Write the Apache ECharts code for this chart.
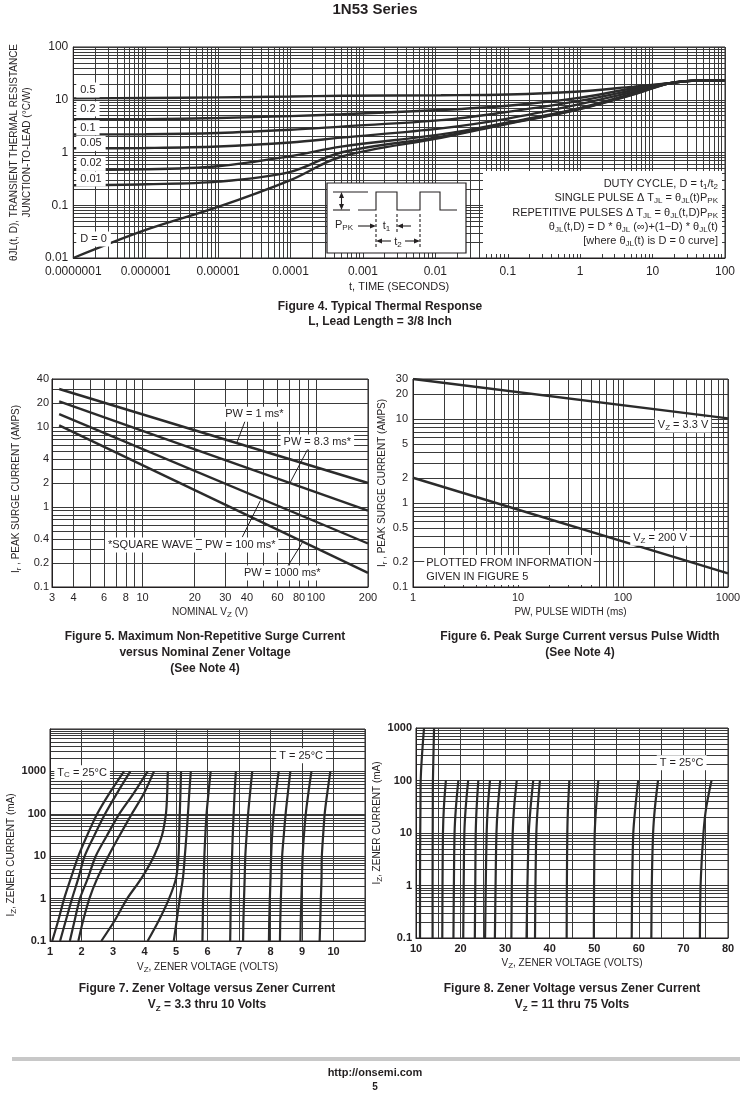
<!DOCTYPE html>
<html><head><meta charset="utf-8">
<script src="https://cdn.jsdelivr.net/npm/echarts@6/dist/echarts.min.js"></script>
<style>html,body{margin:0;padding:0;background:#fff}#c{width:750px;height:1098px}</style>
</head><body><div id="c"></div>
<script>
// ---------------- Figure 4 : thermal response ----------------
const T4 = [1e-7, 1e-6, 1e-5, 1e-4, 5e-4, 0.012, 0.1, 0.85, 5.5, 17, 40, 100];
const D4_00  = [0.01, 0.034, 0.093, 0.30, 0.83, 1.9, 3.5, 6.3, 12.6, 20.5, 23, 23];
const D4_001 = [0.24, 0.25, 0.28, 0.43, 1.0, 2.0, 3.6, 6.4, 12.8, 20.5, 23, 23];
const D4_002 = [0.47, 0.48, 0.55, 0.85, 1.29, 2.2, 3.7, 6.6, 13.2, 20.5, 23, 23];
const D4_005 = [1.2, 1.22, 1.3, 1.55, 1.91, 2.87, 4.4, 7.9, 14.2, 20.5, 23, 23];
const D4_01  = [2.2, 2.22, 2.35, 2.7, 3.1, 4.1, 5.9, 9.2, 15.3, 20.5, 23, 23];
const D4_02  = [4.26, 4.3, 4.5, 4.9, 5.3, 6.4, 7.7, 10.6, 16.5, 20.5, 23, 23];
const D4_05  = [10.6, 10.8, 11.1, 11.5, 11.9, 12.2, 12.6, 14.2, 17.7, 20.5, 23, 23];
const X4_TICKS = [1e-7, 1e-6, 1e-5, 1e-4, 1e-3, 1e-2, 0.1, 1, 10, 100];
const X4_LABELS = ['0.0000001','0.000001','0.00001','0.0001','0.001','0.01','0.1','1','10','100'];
const Y4_TICKS = [0.01, 0.1, 1, 10, 100];

// ---------------- Figure 5 : surge current vs nominal Vz ----------------
const VZ5 = [3.3, 200];
const PW1MS = [30, 2];
const PW83MS = [21, 0.9];
const PW100MS = [14.5, 0.35];
const PW1000MS = [10.5, 0.15];
const X5_TICKS = [3, 4, 6, 8, 10, 20, 30, 40, 60, 80, 100, 200];
const Y5_TICKS = [0.1, 0.2, 0.4, 1, 2, 4, 10, 20, 40];

// ---------------- Figure 6 : surge current vs pulse width ----------------
const PW6 = [1, 1000];
const VZ33 = [30, 10.2];
const VZ200 = [2, 0.145];
const X6_TICKS = [1, 10, 100, 1000];
const Y6_TICKS = [0.1, 0.2, 0.5, 1, 2, 5, 10, 20, 30];

// ---------------- Figure 7 : Vz 3.3 .. 10 V ----------------
const I7 = [0.1, 0.3, 1, 3, 10, 30, 100, 300, 1000];
const V7 = [
  [1.07, 1.26, 1.45, 1.66, 1.9, 2.17, 2.5, 2.88, 3.35],
  [1.32, 1.5, 1.7, 1.9, 2.1, 2.4, 2.75, 3.12, 3.55],
  [1.63, 1.78, 1.95, 2.2, 2.45, 2.8, 3.2, 3.65, 4.1],
  [1.9, 2.05, 2.25, 2.5, 2.85, 3.2, 3.6, 3.98, 4.3],
  [2.63, 3.05, 3.45, 3.9, 4.3, 4.55, 4.68, 4.72, 4.74],
  [4.1, 4.45, 4.78, 5.0, 5.08, 5.1, 5.12, 5.14, 5.16],
  [4.93, 5.02, 5.12, 5.22, 5.28, 5.33, 5.38, 5.42, 5.47],
  [5.84, 5.85, 5.86, 5.88, 5.9, 5.93, 5.97, 6.03, 6.1],
  [6.72, 6.73, 6.74, 6.76, 6.78, 6.8, 6.83, 6.86, 6.9],
  [7.13, 7.14, 7.16, 7.18, 7.2, 7.24, 7.29, 7.35, 7.42],
  [7.95, 7.96, 7.98, 8.0, 8.02, 8.05, 8.1, 8.17, 8.26],
  [8.3, 8.31, 8.33, 8.35, 8.37, 8.42, 8.48, 8.55, 8.63],
  [8.95, 8.96, 8.98, 9.0, 9.02, 9.06, 9.12, 9.2, 9.3],
  [9.56, 9.58, 9.6, 9.62, 9.63, 9.67, 9.72, 9.8, 9.9]
];
const Y7_TICKS = [0.1, 1, 10, 100, 1000];

// ---------------- Figure 8 : Vz 11 .. 75 V ----------------
const I8 = [0.1, 1, 10, 30, 100];
const I8X = [0.1, 1, 10, 30, 100, 1000];
const V8X = [
  [10.9, 10.9, 10.95, 11.0, 11.05, 11.8],
  [13.72, 13.72, 13.75, 13.77, 13.8, 14.05]
];
const V8 = [
  [15.9, 15.95, 16.05, 16.25, 16.7],
  [18.4, 18.5, 18.65, 18.95, 19.5],
  [20.6, 20.7, 20.85, 21.15, 21.7],
  [23.2, 23.3, 23.4, 23.6, 23.98],
  [25.5, 25.65, 25.85, 26.1, 26.6],
  [27.7, 27.85, 28.05, 28.35, 28.9],
  [31.4, 31.5, 31.7, 32.0, 32.6],
  [34.8, 35.0, 35.3, 35.7, 36.3],
  [36.7, 36.8, 37.0, 37.3, 37.8],
  [43.8, 43.85, 43.95, 44.1, 44.4],
  [49.9, 49.95, 50.1, 50.4, 50.9],
  [58.4, 58.5, 58.75, 59.2, 59.85],
  [62.8, 62.9, 63.2, 63.6, 64.3],
  [73.7, 73.85, 74.5, 75.1, 76.3]
];
const Y8_TICKS = [0.1, 1, 10, 100, 1000];

// ---------------- helpers ----------------
const FONT = "'Liberation Sans', Arial, Helvetica, sans-serif";
const INK = '#231f20';
const GRIDC = '#3a3a3a';
const CURVE = '#2b2b2b';
const SUB = { fontSize: 8, lineHeight: 8, verticalAlign: 'bottom' };
const SUBB = { fontSize: 8, lineHeight: 8, verticalAlign: 'bottom', fontWeight: 'bold' };

function logGrid(lo, hi, extra) {
  const out = [];
  for (let k = lo; k <= hi; k++) for (let m = 1; m <= 9; m++) out.push(Number((m * Math.pow(10, k)).toPrecision(6)));
  return out.concat(extra || []);
}
function zip(xs, ys) { return xs.map((x, i) => [x, ys[i]]); }
function lookup(ticks, labels) {
  return v => { for (let i = 0; i < ticks.length; i++) if (Math.abs(v / ticks[i] - 1) < 1e-4) return labels[i]; return ''; };
}
// keep edge label values a hair inside the axis extent so they are not dropped by rounding
function inside(vals) { return vals.map((v, i) => i === 0 ? v * 1.00001 : (i === vals.length - 1 ? v * 0.99999 : v)); }
const numFmt = v => String(Number(v.toPrecision(4)));

function axisBase(grid, type, min, max, nameCfg, labelCfg) {
  const a = {
    type, gridIndex: grid, min, max,
    axisLine: { show: true, lineStyle: { color: INK, width: 1 } },
    axisTick: { show: false },
    splitLine: { show: true, lineStyle: { color: GRIDC, width: 1 } },
    axisLabel: Object.assign({ color: INK, fontSize: 11, fontFamily: FONT, formatter: numFmt,
                               showMinLabel: true, showMaxLabel: true, hideOverlap: false }, labelCfg || {}),
  };
  if (type === 'log') a.logBase = 10;
  if (nameCfg) {
    Object.assign(a, {
      name: nameCfg.name, nameLocation: 'middle', nameGap: nameCfg.gap, nameRotate: nameCfg.rotate || 0,
      nameTextStyle: { color: INK, fontSize: nameCfg.size || 10, fontFamily: FONT, lineHeight: 13, rich: { s: SUB },
                       padding: nameCfg.pad || 0 }
    });
  }
  return a;
}
function note(coord, text, opts) {
  return {
    coord, symbol: 'circle', symbolSize: 0,
    label: Object.assign({
      show: true, position: 'inside', formatter: text, color: INK, fontSize: 11, fontFamily: FONT,
      backgroundColor: '#fff', padding: [1, 3], lineHeight: 13, rich: { s: SUB }
    }, opts || {})
  };
}
function arrow(from, to) { return [{ coord: from }, { coord: to }]; }

const series = [];
function curve(grid, data, extra) {
  series.push(Object.assign({
    type: 'line', xAxisIndex: grid, yAxisIndex: grid, data, showSymbol: false, symbol: 'none',
    silent: true, lineStyle: { color: CURVE, width: 2.4 }, z: 3
  }, extra || {}));
}
function notes(list) { return { silent: true, symbol: 'circle', symbolSize: 0, z: 6, data: list }; }
function arrows(list) {
  return { silent: true, symbol: ['none', 'arrow'], symbolSize: [0, 7], lineStyle: { color: INK, width: 1, type: 'solid' },
           label: { show: false }, data: list };
}

// ---------------- axes ----------------
const xAxis = [
  axisBase(0, 'log', 1e-7, 100, { name: 't, TIME (SECONDS)', gap: 22, size: 11 },
    { customValues: inside(X4_TICKS), formatter: lookup(X4_TICKS, X4_LABELS), fontSize: 12, margin: 8 }),
  axisBase(1, 'log', 3, 200, { name: 'NOMINAL V{s|Z} (V)', gap: 19 }, { customValues: inside(X5_TICKS), margin: 5 }),
  axisBase(2, 'log', 1, 1000, { name: 'PW, PULSE WIDTH (ms)', gap: 19 }, { customValues: inside(X6_TICKS), margin: 5 }),
  axisBase(3, 'value', 1, 11, { name: 'V{s|Z}, ZENER VOLTAGE (VOLTS)', gap: 20 },
    { fontWeight: 'bold', margin: 5, showMaxLabel: false }),
  axisBase(4, 'value', 10, 80, { name: 'V{s|Z}, ZENER VOLTAGE (VOLTS)', gap: 19 },
    { fontWeight: 'bold', margin: 5, formatter: v => (v % 10 === 0 ? String(v) : '') }),
];
xAxis[0].axisTick.customValues = logGrid(-7, 1, [100]);
xAxis[1].axisTick.customValues = [3, 4, 5, 6, 7, 8, 9].concat(logGrid(1, 1, [100, 200]));
xAxis[2].axisTick.customValues = logGrid(0, 2, [1000]);
xAxis[3].interval = 1;
xAxis[4].interval = 5;

const yAxis = [
  axisBase(0, 'log', 0.01, 100,
    { name: 'θJL(t, D), TRANSIENT THERMAL RESISTANCE\nJUNCTION-TO-LEAD (°C/W)', gap: 29, rotate: 90 },
    { customValues: inside(Y4_TICKS), fontSize: 12, margin: 5 }),
  axisBase(1, 'log', 0.1, 40, { name: 'I{s|r} , PEAK SURGE CURRENT (AMPS)', gap: 29, rotate: 90, pad: [0, 12, 0, 0] },
    { customValues: inside(Y5_TICKS), margin: 3 }),
  axisBase(2, 'log', 0.1, 30, { name: 'I{s|r} , PEAK SURGE CURRENT (AMPS)', gap: 22, rotate: 90 },
    { customValues: inside(Y6_TICKS), margin: 5 }),
  axisBase(3, 'log', 0.1, 10000, { name: 'I{s|Z}, ZENER CURRENT (mA)', gap: 24, rotate: 90, pad: [0, 40, 0, 0] },
    { customValues: inside(Y7_TICKS), fontWeight: 'bold', margin: 4 }),
  axisBase(4, 'log', 0.1, 1000, { name: 'I{s|Z}, ZENER CURRENT (mA)', gap: 27, rotate: 90, pad: [0, 0, 0, 20] },
    { customValues: inside(Y8_TICKS), fontWeight: 'bold', margin: 4 }),
];
yAxis[0].axisTick.customValues = logGrid(-2, 1, [100]);
yAxis[1].axisTick.customValues = logGrid(-1, 0, [10, 20, 30, 40]);
yAxis[2].axisTick.customValues = logGrid(-1, 0, [10, 20, 30]);
yAxis[3].axisTick.customValues = logGrid(-1, 3, [10000]);
yAxis[4].axisTick.customValues = logGrid(-1, 2, [1000]);

// ---------------- series ----------------
const D4 = [
  [D4_05, '0.5', 15.3], [D4_02, '0.2', 6.7], [D4_01, '0.1', 2.95], [D4_005, '0.05', 1.49],
  [D4_002, '0.02', 0.62], [D4_001, '0.01', 0.315], [D4_00, 'D = 0', 0.023]
];
D4.forEach(([arr, lbl, ly]) => {
  curve(0, zip(T4, arr), {
    smooth: 0.35,
    markPoint: notes([note([1.1e-7, ly], lbl, { position: 'right', distance: 0, padding: [1, 4] })])
  });
});

curve(1, zip(VZ5, PW1MS), {
  markPoint: notes([note([44.2, 14.5], 'PW = 1 ms*'), note([102, 6.5], 'PW = 8.3 ms*'),
                    note([11.1, 0.335], '*SQUARE WAVE'), note([36.6, 0.335], 'PW = 100 ms*'),
                    note([64, 0.15], 'PW = 1000 ms*')]),
  markLine: arrows([arrow([39.2, 12.2], [35, 6.4]), arrow([90.6, 5.5], [71.3, 2.05]),
                    arrow([37.6, 0.42], [47.8, 1.2]), arrow([68.4, 0.178], [83.6, 0.36])])
});
curve(1, zip(VZ5, PW83MS));
curve(1, zip(VZ5, PW100MS));
curve(1, zip(VZ5, PW1000MS));

curve(2, zip(PW6, VZ33), {
  markPoint: notes([note([373, 8.5], 'V{s|Z} = 3.3 V'), note([225, 0.38], 'V{s|Z} = 200 V'),
                    note([1.28, 0.159], 'PLOTTED FROM INFORMATION\nGIVEN IN FIGURE 5',
                         { position: 'right', distance: 0, align: 'left', padding: [1, 2], lineHeight: 14 })])
});
curve(2, zip(PW6, VZ200));

V7.forEach((v, i) => curve(3, zip(v, I7), Object.assign({ smooth: 0.3, lineStyle: { color: CURVE, width: 2.2 } },
  i === 0 ? { markPoint: notes([note([8.97, 2340], 'T = 25°C'), note([2.02, 930], 'T{s|C} = 25°C')]) } : {})));

V8X.forEach(v => curve(4, zip(v, I8X), { smooth: 0.3, lineStyle: { color: CURVE, width: 2.2 } }));
V8.forEach((v, i) => curve(4, zip(v, I8), Object.assign({ smooth: 0.3, lineStyle: { color: CURVE, width: 2.2 } },
  i === 0 ? { markPoint: notes([note([69.6, 218], 'T = 25°C')]) } : {})));

// ---------------- titles ----------------
const capStyle = { fontSize: 12, fontWeight: 'bold', color: INK, fontFamily: FONT, lineHeight: 16, rich: { s: SUBB } };
const title = [
  { text: '1N53 Series', left: 375, top: 2, textAlign: 'center', padding: 0,
    textStyle: { fontSize: 15, fontWeight: 'bold', color: INK, fontFamily: FONT } },
  { text: 'Figure 4. Typical Thermal Response\nL, Lead Length = 3/8 Inch', left: 380, top: 299, textAlign: 'center', padding: 0,
    textStyle: Object.assign({}, capStyle, { lineHeight: 15 }) },
  { text: 'Figure 5. Maximum Non-Repetitive Surge Current\nversus Nominal Zener Voltage\n(See Note 4)', left: 205, top: 629,
    textAlign: 'center', padding: 0, textStyle: capStyle },
  { text: 'Figure 6. Peak Surge Current versus Pulse Width\n(See Note 4)', left: 580, top: 629,
    textAlign: 'center', padding: 0, textStyle: capStyle },
  { text: 'Figure 7. Zener Voltage versus Zener Current\nV{s|Z} = 3.3 thru 10 Volts', left: 207, top: 981,
    textAlign: 'center', padding: 0, textStyle: capStyle },
  { text: 'Figure 8. Zener Voltage versus Zener Current\nV{s|Z} = 11 thru 75 Volts', left: 572, top: 981,
    textAlign: 'center', padding: 0, textStyle: capStyle },
  { text: 'http://onsemi.com', left: 375, top: 1067, textAlign: 'center', padding: 0,
    textStyle: { fontSize: 11, fontWeight: 'bold', color: INK, fontFamily: FONT } },
  { text: '5', left: 375, top: 1082, textAlign: 'center', padding: 0,
    textStyle: { fontSize: 10, color: INK, fontFamily: FONT } },
];

// ---------------- annotation drawing (figure 4 inset & formulas, footer rule) ----------------
const RICH = { s: { fontSize: 8, lineHeight: 8, verticalAlign: 'bottom', fontFamily: FONT } };
function gtext(x, y, text, align, size) {
  return { type: 'text', x, y, z: 60, silent: true,
    style: { text, fill: INK, fontSize: size || 11, fontFamily: FONT, align: align || 'left', verticalAlign: 'middle',
             lineHeight: 13, rich: RICH } };
}
function gline(pts, dash) {
  return { type: 'polyline', z: 60, silent: true, shape: { points: pts },
    style: { stroke: INK, lineWidth: 1.1, fill: null, lineDash: dash || null } };
}
function ghead(pts) { return { type: 'polygon', z: 60, silent: true, shape: { points: pts }, style: { fill: INK } }; }

const graphic = [
  { type: 'rect', z: 55, silent: true, shape: { x: 483, y: 171, width: 239, height: 83 }, style: { fill: '#fff' } },
  gtext(718, 184, 'DUTY CYCLE, D = t{s|1}/t{s|2}', 'right'),
  gtext(718, 198, 'SINGLE PULSE Δ T{s|JL} = θ{s|JL}(t)P{s|PK}', 'right'),
  gtext(718, 213, 'REPETITIVE PULSES Δ T{s|JL} = θ{s|JL}(t,D)P{s|PK}', 'right'),
  gtext(718, 227, 'θ{s|JL}(t,D) = D * θ{s|JL} (∞)+(1−D) * θ{s|JL}(t)', 'right'),
  gtext(718, 241, '[where θ{s|JL}(t) is D = 0 curve]', 'right'),
  { type: 'rect', z: 55, silent: true, shape: { x: 327, y: 183, width: 139, height: 70 },
    style: { fill: '#fff', stroke: INK, lineWidth: 1.2 } },
  gline([[358, 210], [376, 210], [376, 192], [397, 192], [397, 210], [420, 210], [420, 192], [440, 192], [440, 210], [457, 210]]),
  gline([[333, 192], [368, 192]]),
  gline([[333, 210], [350, 210]]),
  gline([[341.5, 195], [341.5, 207]]),
  ghead([[341.5, 192], [339, 198], [344, 198]]),
  ghead([[341.5, 210], [339, 204], [344, 204]]),
  gtext(335, 225, 'P{s|PK}', 'left', 11),
  gline([[358, 226], [372, 226]]), ghead([[376, 226], [370, 223.5], [370, 228.5]]),
  gtext(386.5, 226, 't{s|1}', 'center', 11),
  gline([[411, 226], [401, 226]]), ghead([[397, 226], [403, 223.5], [403, 228.5]]),
  gline([[376, 214], [376, 249]], [3, 2]),
  gline([[420, 214], [420, 249]], [3, 2]),
  gline([[397, 214], [397, 232]], [3, 2]),
  gline([[380, 241], [391, 241]]), ghead([[376, 241], [382, 238.5], [382, 243.5]]),
  gtext(398, 242, 't{s|2}', 'center', 11),
  gline([[405, 241], [416, 241]]), ghead([[420, 241], [414, 238.5], [414, 243.5]]),
  { type: 'line', silent: true, shape: { x1: 12, y1: 1059, x2: 740, y2: 1059 }, style: { stroke: '#c8c8c8', lineWidth: 4 } },
];

const chart = echarts.init(document.getElementById('c'));
chart.setOption({
  animation: false,
  backgroundColor: '#fff',
  textStyle: { fontFamily: FONT },
  title,
  grid: [
    { left: 68, top: 47, width: 657, height: 211, show: true, borderColor: INK, borderWidth: 1, backgroundColor: 'transparent' },
    { left: 52, top: 379, width: 316, height: 208, show: true, borderColor: INK, borderWidth: 1, backgroundColor: 'transparent' },
    { left: 413, top: 379, width: 315, height: 208, show: true, borderColor: INK, borderWidth: 1, backgroundColor: 'transparent' },
    { left: 50, top: 729, width: 315, height: 212, show: true, borderColor: INK, borderWidth: 1, backgroundColor: 'transparent' },
    { left: 416, top: 728, width: 312, height: 210, show: true, borderColor: INK, borderWidth: 1, backgroundColor: 'transparent' },
  ],
  xAxis, yAxis, series, graphic
});
</script>
</body></html>
